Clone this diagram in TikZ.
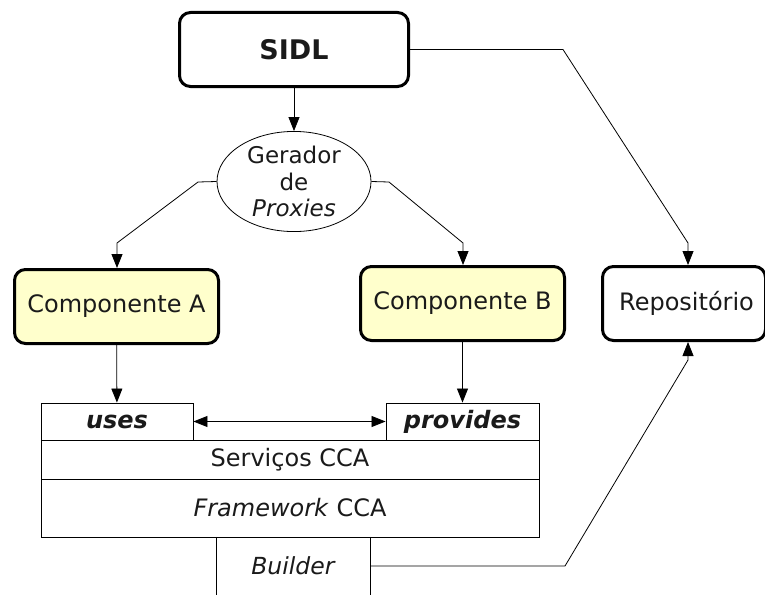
\documentclass[tikz,border=0pt]{standalone}
\usepackage{fontspec}
\setmainfont{DejaVu Sans}
\usetikzlibrary{shapes.geometric,arrows.meta}
\definecolor{compyellow}{RGB}{255,255,204}
\definecolor{txt}{RGB}{26,26,26}
\tikzset{
  thickbox/.style={draw=black, line width=3pt, rounded corners=11pt, inner sep=0pt, text=txt},
  flatbox/.style={draw=black, line width=0.9pt, inner sep=0pt, text=txt},
  conn/.style={line width=0.8pt, draw=black},
  arr/.style={conn, -{Triangle[length=14pt,width=11pt]}},
  dblarr/.style={conn, {Triangle[length=14pt,width=11pt]}-{Triangle[length=14pt,width=11pt]}},
  txtA/.style={font=\fontsize{24}{28}\selectfont},
  txtB/.style={font=\fontsize{24}{28}\selectfont},
}
\begin{document}
\begin{tikzpicture}[x=1pt,y=-1pt]
\useasboundingbox (0,0) rectangle (765,594);
% main nodes
\node[thickbox, minimum width=229pt, minimum height=74pt, font=\fontsize{27}{31}\selectfont\bfseries] (sidl) at (294,49.5) {SIDL};
\node[ellipse, draw=black, line width=0.8pt, minimum width=154pt, minimum height=97pt, inner sep=0pt, align=center, text=txt, font=\fontsize{23}{26.5}\selectfont] (ger) at (294,181.5) {Gerador\\de\\\itshape Proxies};
\node[thickbox, fill=compyellow, minimum width=204pt, minimum height=74pt, txtA] (compA) at (116.5,306.5) {Componente A};
\node[thickbox, fill=compyellow, minimum width=204pt, minimum height=74pt, txtA] (compB) at (462.5,303.5) {Componente B};
\node[thickbox, fill=white, minimum width=163pt, minimum height=74pt, txtB] (rep) at (684,303.5) {\hspace*{5pt}Repositório};
% framework stack
\node[flatbox, minimum width=152pt, minimum height=37pt, font=\fontsize{24}{28}\selectfont\bfseries\itshape] (uses) at (117,421.5) {uses};
\node[flatbox, minimum width=153pt, minimum height=37pt, font=\fontsize{24}{28}\selectfont\bfseries\itshape] (prov) at (462.5,421.5) {provides};
\node[flatbox, minimum width=498pt, minimum height=39pt, txtB] (serv) at (290,459.5) {Serviços CCA};
\node[flatbox, minimum width=498pt, minimum height=58pt, txtB] (fw) at (290,508) {\textit{Framework} CCA};
\node[inner sep=0pt, minimum width=153pt, minimum height=58pt, font=\fontsize{23.5}{28}\selectfont, text=txt] (builder) at (293.5,566) {\textit{Builder}};
\draw[line width=0.9pt] (builder.north west) -- (builder.south west);
\draw[line width=0.9pt] (builder.north east) -- (builder.south east);
% routing coordinates
\coordinate (gl) at (198,182);
\coordinate (gld) at (117,243);
\coordinate (gr) at (389,182);
\coordinate (grd) at (463,243);
\coordinate (s1) at (563,49.5);
\coordinate (s2) at (688,243);
\coordinate (b1) at (565,566);
\coordinate (b2) at (688,360);
\coordinate (rx) at (688,0);
% connectors
\draw[arr] (sidl) -- (ger);
\draw[arr] (ger.west) -- (gl) -- (gld) -- (gld |- compA.north);
\draw[arr] (ger.east) -- (gr) -- (grd) -- (grd |- compB.north);
\draw[arr] (sidl.east) -- (s1) -- (s2) -- (rx |- rep.north);
\draw[arr] (builder.east) -- (b1) -- (b2) -- (rx |- rep.south);
\draw[arr] (compA) -- (uses);
\draw[arr] (compB) -- (prov);
\draw[dblarr] (uses.east) -- (prov.west);
\end{tikzpicture}
\end{document}
